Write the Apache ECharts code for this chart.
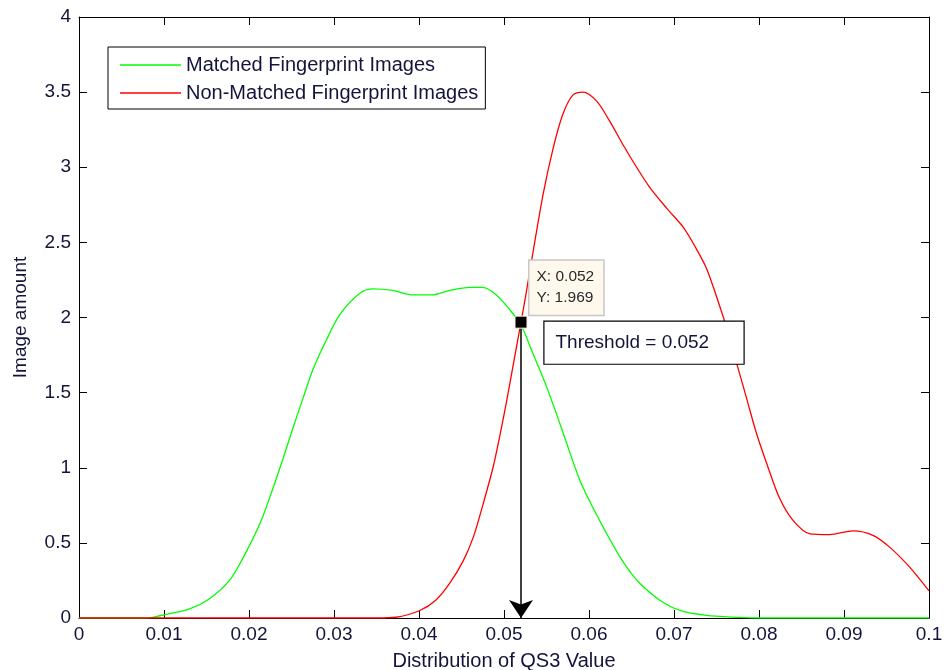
<!DOCTYPE html>
<html>
<head>
<meta charset="utf-8">
<script src="https://cdn.jsdelivr.net/npm/echarts@6/dist/echarts.min.js"></script>
<style>
html,body{margin:0;padding:0;background:#fff;}
#chart{width:946px;height:670px;}
</style>
</head>
<body>
<div id="chart"></div>
<script>
const xTicks = [0, 0.01, 0.02, 0.03, 0.04, 0.05, 0.06, 0.07, 0.08, 0.09, 0.1];
const yTicks = [0, 0.5, 1, 1.5, 2, 2.5, 3, 3.5, 4];

const matchedName = 'Matched Fingerprint Images';
const matchedX = [0, 0.008, 0.0095, 0.013, 0.0154, 0.0177, 0.0193, 0.0213, 0.0228, 0.024, 0.0252, 0.0264, 0.0275, 0.0291, 0.0307, 0.033, 0.0346, 0.0369, 0.0393, 0.0416, 0.0436, 0.046, 0.0475, 0.0491, 0.0507, 0.052, 0.0534, 0.055, 0.0566, 0.0589, 0.0605, 0.062, 0.0636, 0.0648, 0.066, 0.0683, 0.0707, 0.0738, 0.0777, 0.08, 0.1];
const matchedY = [0, 0, 0.015, 0.06, 0.13, 0.25, 0.40, 0.63, 0.86, 1.06, 1.27, 1.47, 1.65, 1.85, 2.02, 2.16, 2.19, 2.18, 2.15, 2.15, 2.18, 2.20, 2.20, 2.15, 2.05, 1.95, 1.76, 1.54, 1.29, 0.92, 0.73, 0.57, 0.41, 0.31, 0.23, 0.12, 0.05, 0.017, 0.004, 0, 0];

const nonMatchedName = 'Non-Matched Fingerprint Images';
const nonMatchedX = [0, 0.035, 0.0373, 0.0401, 0.042, 0.0436, 0.0452, 0.0464, 0.0475, 0.0487, 0.0495, 0.0503, 0.0511, 0.052, 0.0526, 0.0534, 0.0546, 0.0558, 0.0569, 0.0581, 0.0593, 0.0609, 0.0624, 0.064, 0.0656, 0.0671, 0.0691, 0.0711, 0.0726, 0.0738, 0.075, 0.0762, 0.0773, 0.0785, 0.0797, 0.0809, 0.0824, 0.084, 0.086, 0.0883, 0.0911, 0.0934, 0.0954, 0.0977, 0.1];
const nonMatchedY = [0, 0, 0.005, 0.05, 0.12, 0.23, 0.38, 0.54, 0.75, 1.00, 1.21, 1.44, 1.69, 1.969, 2.16, 2.43, 2.82, 3.13, 3.35, 3.48, 3.50, 3.44, 3.31, 3.15, 3.00, 2.87, 2.73, 2.60, 2.46, 2.33, 2.14, 1.93, 1.71, 1.47, 1.23, 1.03, 0.80, 0.65, 0.56, 0.555, 0.58, 0.55, 0.47, 0.34, 0.18];

const thresholdX = 0.052;
const thresholdY = 1.969;
const thresholdText = 'Threshold = 0.052';

const FONT = '"Liberation Sans", Arial, sans-serif';
const TXT = '#14143a';

function zip(xs, ys) { return xs.map((x, i) => [x, ys[i]]); }
function fmt(v) { return String(Math.round(v * 1000) / 1000); }

const chart = echarts.init(document.getElementById('chart'), null, {renderer: 'canvas'});

const axisCommon = {
  axisLine: {show: true, onZero: false, lineStyle: {color: '#000', width: 1}},
  axisTick: {show: true, inside: true, length: 8, lineStyle: {color: '#000', width: 1}},
  splitLine: {show: false}
};

chart.setOption({
  animation: false,
  backgroundColor: '#fff',
  textStyle: {fontFamily: FONT},
  grid: {left: 79, right: 17, top: 17, bottom: 52, containLabel: false, outerBoundsMode: 'none'},
  legend: {
    data: [matchedName, nonMatchedName],
    orient: 'vertical',
    left: 108,
    top: 47,
    icon: 'rect',
    itemWidth: 61,
    itemHeight: 1.5,
    itemGap: 8,
    padding: [8, 7, 6, 12],
    borderColor: '#000',
    borderWidth: 1,
    backgroundColor: '#fff',
    textStyle: {fontFamily: FONT, fontSize: 20, color: TXT, lineHeight: 20}
  },
  xAxis: [
    Object.assign({}, axisCommon, {
      type: 'value', position: 'bottom', min: 0, max: 0.1, interval: 0.01,
      name: 'Distribution of QS3 Value', nameLocation: 'middle', nameGap: 33,
      nameTextStyle: {fontFamily: FONT, fontSize: 20, color: TXT},
      axisLabel: {show: true, margin: 7, fontFamily: FONT, fontSize: 19, color: TXT,
        formatter: v => fmt(v)}
    }),
    Object.assign({}, axisCommon, {
      type: 'value', position: 'top', min: 0, max: 0.1, interval: 0.01,
      axisLabel: {show: false}
    })
  ],
  yAxis: [
    Object.assign({}, axisCommon, {
      type: 'value', position: 'left', min: 0, max: 4, interval: 0.5,
      name: 'Image amount', nameLocation: 'middle', nameGap: 49,
      nameTextStyle: {fontFamily: FONT, fontSize: 19, color: TXT},
      axisLabel: {show: true, margin: 8, fontFamily: FONT, fontSize: 19, color: TXT,
        formatter: v => fmt(v)}
    }),
    Object.assign({}, axisCommon, {
      type: 'value', position: 'right', min: 0, max: 4, interval: 0.5,
      axisLabel: {show: false}
    })
  ],
  series: [
    {
      name: matchedName,
      type: 'line',
      data: zip(matchedX, matchedY),
      symbol: 'none',
      smooth: 0.3,
      lineStyle: {color: '#00ff00', width: 1.3},
      itemStyle: {color: '#00ff00'},
      z: 2
    },
    {
      name: nonMatchedName,
      type: 'line',
      data: zip(nonMatchedX, nonMatchedY),
      symbol: 'none',
      smooth: 0.3,
      lineStyle: {color: '#ff0000', width: 1.3},
      itemStyle: {color: '#ff0000'},
      z: 3,
      markLine: {
        silent: true,
        symbol: ['none', 'arrow'],
        symbolSize: 18,
        lineStyle: {color: '#000', width: 1.5, type: 'solid'},
        itemStyle: {color: '#000'},
        label: {show: false},
        data: [[{coord: [thresholdX, thresholdY]}, {coord: [thresholdX, 0]}]],
        z: 5
      },
      markPoint: {
        silent: true,
        z: 6,
        data: [
          {
            coord: [thresholdX, thresholdY],
            symbol: 'rect',
            symbolSize: 12,
            itemStyle: {color: '#000', borderColor: '#fff4e0', borderWidth: 1},
            label: {
              show: true,
              position: [15, -55],
              formatter: 'X: ' + thresholdX + '\nY: ' + thresholdY,
              fontFamily: FONT, fontSize: 15.5, lineHeight: 21, color: '#2a2a2a',
              backgroundColor: '#fff8ec', borderColor: '#c8c8c8', borderWidth: 1.5,
              padding: [6, 9, 6, 7], align: 'left', verticalAlign: 'top'
            }
          },
          {
            coord: [thresholdX, thresholdY],
            symbol: 'rect',
            symbolSize: 1,
            itemStyle: {color: 'rgba(0,0,0,0)'},
            label: {
              show: true,
              position: [24, 0],
              formatter: thresholdText,
              fontFamily: FONT, fontSize: 19, lineHeight: 22, color: TXT,
              backgroundColor: '#fff', borderColor: '#000', borderWidth: 1.2,
              width: 188, padding: [10, 0, 10, 11], align: 'left', verticalAlign: 'top'
            }
          }
        ]
      }
    }
  ]
});
</script>
</body>
</html>
